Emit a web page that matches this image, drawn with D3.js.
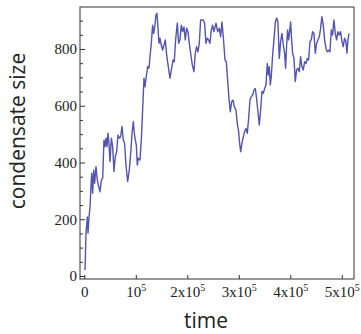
<!DOCTYPE html>
<html><head><meta charset="utf-8">
<script src="https://cdn.jsdelivr.net/npm/d3@7"></script>
<style>html,body{margin:0;padding:0;background:#fff;}svg{display:block;}</style>
</head><body>
<svg id="c" width="361" height="334"></svg>
<script>
const time = [1400,3300,5900,7200,9100,11100,14300,16200,18200,20100,22700,25300,27900,30500,33100,35700,38200,40200,42100,44100,46000,47900,49900,52500,55100,57600,60200,62800,65400,68000,70600,73200,75800,78300,80900,84200,87400,90600,92600,95200,97100,99100,101000,102900,104900,108100,110700,113300,115900,117800,120400,123000,125600,128200,130100,132700,134600,137200,139200,141100,143100,145000,146900,149500,152100,154700,157300,159900,163100,166300,169600,172200,174700,177300,180600,183200,185700,188300,190900,193500,196100,198700,201300,203900,206500,209700,212900,215500,218100,220700,223300,225900,228500,231000,233600,236200,238800,241400,244000,246600,249200,251700,
255700,258900,262200,264800,267300,269900,273200,275800,278300,280900,283500,286100,288700,291300,294500,297100,299700,301600,303600,306200,308800,311300,313900,316500,319100,321700,324300,326900,329500,332000,334600,337200,339800,342400,345000,347600,350200,352800,355300,357300,359200,361200,363100,365700,368300,370900,373500,376000,378600,381200,383800,386400,389000,390900,392900,394800,396700,398700,400600,402600,404500,407100,409700,412300,414900,417500,420000,422600,425200,427800,430400,433000,435600,438200,440700,443300,445900,448500,451100,453700,456300,458900,461400,464000,466600,469200,471800,474400,477000,479600,482100,484700,487300,489900,492500,495100,497700,500300,502800,505400,508000,510000,511900,513900];
const condensateSize = [21,151,208,151,205,243,362,292,373,327,385,338,315,297,338,345,479,456,486,456,503,468,403,486,456,368,421,438,497,486,491,527,479,468,391,333,373,444,503,544,503,479,462,391,415,409,479,585,697,667,703,738,732,785,820,884,855,884,920,926,873,820,838,814,796,814,832,779,738,697,732,761,755,832,891,820,832,884,861,878,832,873,861,820,785,744,720,785,808,790,820,902,902,902,891,820,838,832,820,867,884,861,
891,861,873,843,895,843,761,755,691,626,579,614,620,597,585,538,509,468,438,468,491,509,520,503,555,620,632,638,655,661,626,579,532,585,650,644,661,673,749,709,738,673,703,779,832,895,909,895,767,826,855,814,785,732,814,867,832,861,895,832,785,767,685,726,732,720,773,738,726,755,749,767,761,826,832,861,855,785,820,832,843,873,914,884,832,803,790,796,790,867,849,902,855,832,861,849,861,826,808,838,826,785,832,855];
const xTicks = [0,100000,200000,300000,400000,500000];
const xTickLabels = ["0","10^5","2x10^5","3x10^5","4x10^5","5x10^5"];
const yTicks = [0,200,400,600,800];
const yMinorTicks = [50,100,150,250,300,350,450,500,550,650,700,750,850,900];
const xTitle = "time";
const yTitle = "condensate size";

const svg = d3.select("#c");
const L = 80, T = 7, R = 354, B = 279;
const x = d3.scaleLinear().domain([-8350, 523700]).range([L, R]);
const y = d3.scaleLinear().domain([-10.6, 948]).range([B, T]);

const serif = "'Liberation Serif','DejaVu Serif',serif";

// minor y ticks
svg.append("g").attr("transform",`translate(${L},0)`)
  .call(d3.axisLeft(y).tickValues(yMinorTicks).tickSize(-3).tickFormat(""))
  .call(g=>{g.select(".domain").remove(); g.selectAll("line").attr("stroke","#333");});

// major y ticks
svg.append("g").attr("transform",`translate(${L},0)`)
  .call(d3.axisLeft(y).tickValues(yTicks).tickSize(-5).tickPadding(3).tickFormat(d3.format("d")))
  .call(g=>{g.select(".domain").remove();
    g.selectAll("line").attr("stroke","#333");
    g.selectAll("text").attr("font-family",serif).attr("font-size",15).attr("fill","#222");});

// x ticks
const gx = svg.append("g").attr("transform",`translate(0,${B})`)
  .call(d3.axisBottom(x).tickValues(xTicks).tickSize(-4).tickFormat(""))
  .call(g=>{g.select(".domain").remove(); g.selectAll("line").attr("stroke","#333");});
gx.selectAll(".tick").each(function(d,i){
  const parts = xTickLabels[i].split("^");
  const t = d3.select(this).append("text").attr("y",18).attr("fill","#222")
    .attr("font-family",serif).attr("font-size",15).attr("text-anchor","middle");
  t.append("tspan").text(parts[0]);
  if(parts[1]) t.append("tspan").attr("font-size",10).attr("dy",-6).text(parts[1]);
});

// line
svg.append("path")
  .datum(time.map((t,i)=>[t,condensateSize[i]]))
  .attr("fill","none").attr("stroke","#5353b0").attr("stroke-width",1.4)
  .attr("stroke-linejoin","round")
  .attr("d", d3.line().x(d=>x(d[0])).y(d=>y(d[1])));

// frame
svg.append("rect").attr("x",L).attr("y",T).attr("width",R-L).attr("height",B-T)
  .attr("fill","none").attr("stroke","#333").attr("stroke-width",1);

// titles
const sans = "'Open Sans','Noto Sans',sans-serif";
svg.append("text").attr("x",206).attr("y",328).attr("text-anchor","middle")
  .attr("font-family",sans).attr("font-size",21).attr("fill","#222").text(xTitle);
svg.append("text").attr("transform","translate(25,131) rotate(-90)").attr("text-anchor","middle")
  .attr("font-family",sans).attr("font-size",21).attr("fill","#222").text(yTitle);
</script>
</body></html>
